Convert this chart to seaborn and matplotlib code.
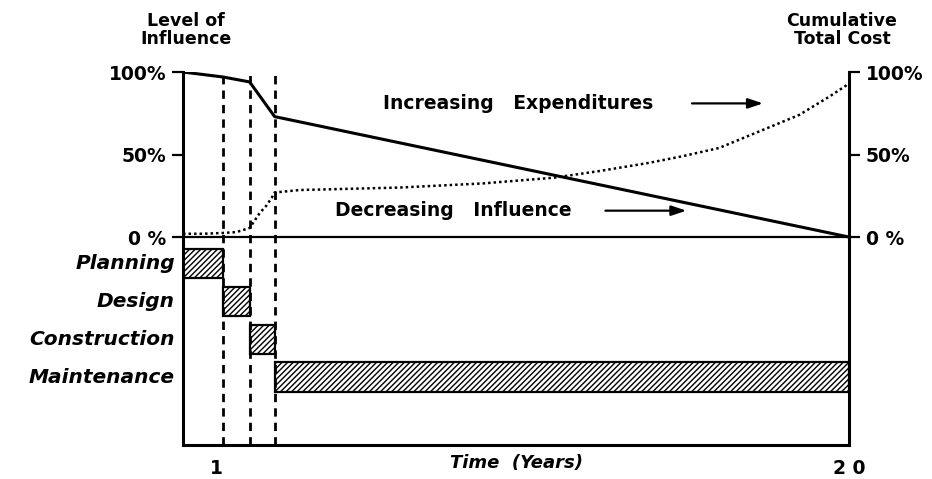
import matplotlib
matplotlib.use("Agg")
import matplotlib.pyplot as plt
import seaborn as sns
import pandas as pd

# influence curve (solid)
inf_years = [0, 1.2, 2.0, 2.75, 20]
influence = [100, 97, 94, 73, 0]

# cumulative cost curve (dotted)
exp_years = [0, 0.6, 1.2, 1.6, 2.0, 2.3, 2.5, 2.67, 2.75, 3.5, 6.5, 9.0,
             11.15, 12.5, 14.0, 15.0, 16.1, 17.3, 18.5, 19.4, 20]
expend = [2, 2, 2.5, 3, 5.5, 14.5, 19, 24, 27, 28.5, 30, 32.5,
          36, 40, 45, 49, 54, 64, 74, 85, 93]

# project phases
phases = ["Planning", "Design", "Construction", "Maintenance"]
phase_start = [0, 1.2, 2.0, 2.75]
phase_end = [1.2, 2.0, 2.75, 20]
phase_marks = [1.2, 2.0, 2.75]

pct_ticks = [0, 50, 100]
pct_labels = ["0 %", "50%", "100%"]

sns.set_style("white")
plt.rcParams["font.family"] = ["DejaVu Sans"]
plt.rcParams["text.color"] = "black"
plt.rcParams["xtick.color"] = "black"
plt.rcParams["ytick.color"] = "black"
plt.rcParams["axes.labelcolor"] = "black"
plt.rcParams["hatch.linewidth"] = 1.0

fig = plt.figure(figsize=(9.32, 4.79), dpi=100)
ax = fig.add_axes([0.1964, 0.071, 0.7146, 0.7786])

df_inf = pd.DataFrame({"year": inf_years, "pct": influence})
df_exp = pd.DataFrame({"year": exp_years, "pct": expend})
sns.lineplot(data=df_inf, x="year", y="pct", color="black", lw=2.2, ax=ax)
sns.lineplot(data=df_exp, x="year", y="pct", color="black", lw=1.8,
             linestyle=(0, (1.0, 1.2)), ax=ax)

ax.axhline(0, color="black", lw=1.6)
for xm in phase_marks:
    ax.axvline(xm, color="black", lw=2.0, linestyle=(0, (3, 2.2)))

for i, (name, s, e) in enumerate(zip(phases, phase_start, phase_end)):
    yc = -16 - 23 * i
    ax.barh(yc, e - s, left=s, height=18, color="white", edgecolor="black",
            hatch="//////", lw=1.6)
    ax.text(-0.25, yc, name, ha="right", va="center", fontsize=14.5,
            fontweight="bold", fontstyle="italic")

ax.set_xlim(0, 20)
ax.set_ylim(-126, 100)
ax.set_yticks(pct_ticks)
ax.set_yticklabels(pct_labels)
ax.set_xticks([1, 20])
ax.set_xticklabels(["1", "2 0"])
ax.tick_params(axis="y", direction="out", length=8, width=1.6, pad=4,
               labelsize=13.5, right=True, labelright=True, left=True)
ax.tick_params(axis="x", length=0, pad=10, labelsize=13.5)
for lab in ax.get_yticklabels() + ax.get_xticklabels():
    lab.set_fontweight("bold")
ax.set_xlabel("Time  (Years)", fontsize=13, fontweight="bold",
              fontstyle="italic", labelpad=-17)
ax.set_ylabel("")

for side in ["left", "right", "bottom"]:
    ax.spines[side].set_linewidth(2.2)
    ax.spines[side].set_color("black")
ax.spines["top"].set_visible(False)

ax.text(6.0, 81, "Increasing   Expenditures", fontsize=13.5, fontweight="bold",
        va="center", ha="left")
ax.annotate("", xy=(17.5, 81), xytext=(15.2, 81),
            arrowprops=dict(arrowstyle="-|>,head_length=0.9,head_width=0.3",
                            color="black", lw=1.6))
ax.text(4.55, 16, "Decreasing   Influence", fontsize=13.5, fontweight="bold",
        va="center", ha="left")
ax.annotate("", xy=(15.2, 16), xytext=(12.6, 16),
            arrowprops=dict(arrowstyle="-|>,head_length=0.9,head_width=0.3",
                            color="black", lw=1.6))

fig.text(186 / 932, 1 - 30 / 479, "Level of\nInfluence", ha="center",
         va="center", fontsize=12.5, fontweight="bold", linespacing=1.05)
fig.text(842 / 932, 1 - 30 / 479, "Cumulative\nTotal Cost", ha="center",
         va="center", fontsize=12.5, fontweight="bold", linespacing=1.05)

fig.savefig("out.png", dpi=100)
